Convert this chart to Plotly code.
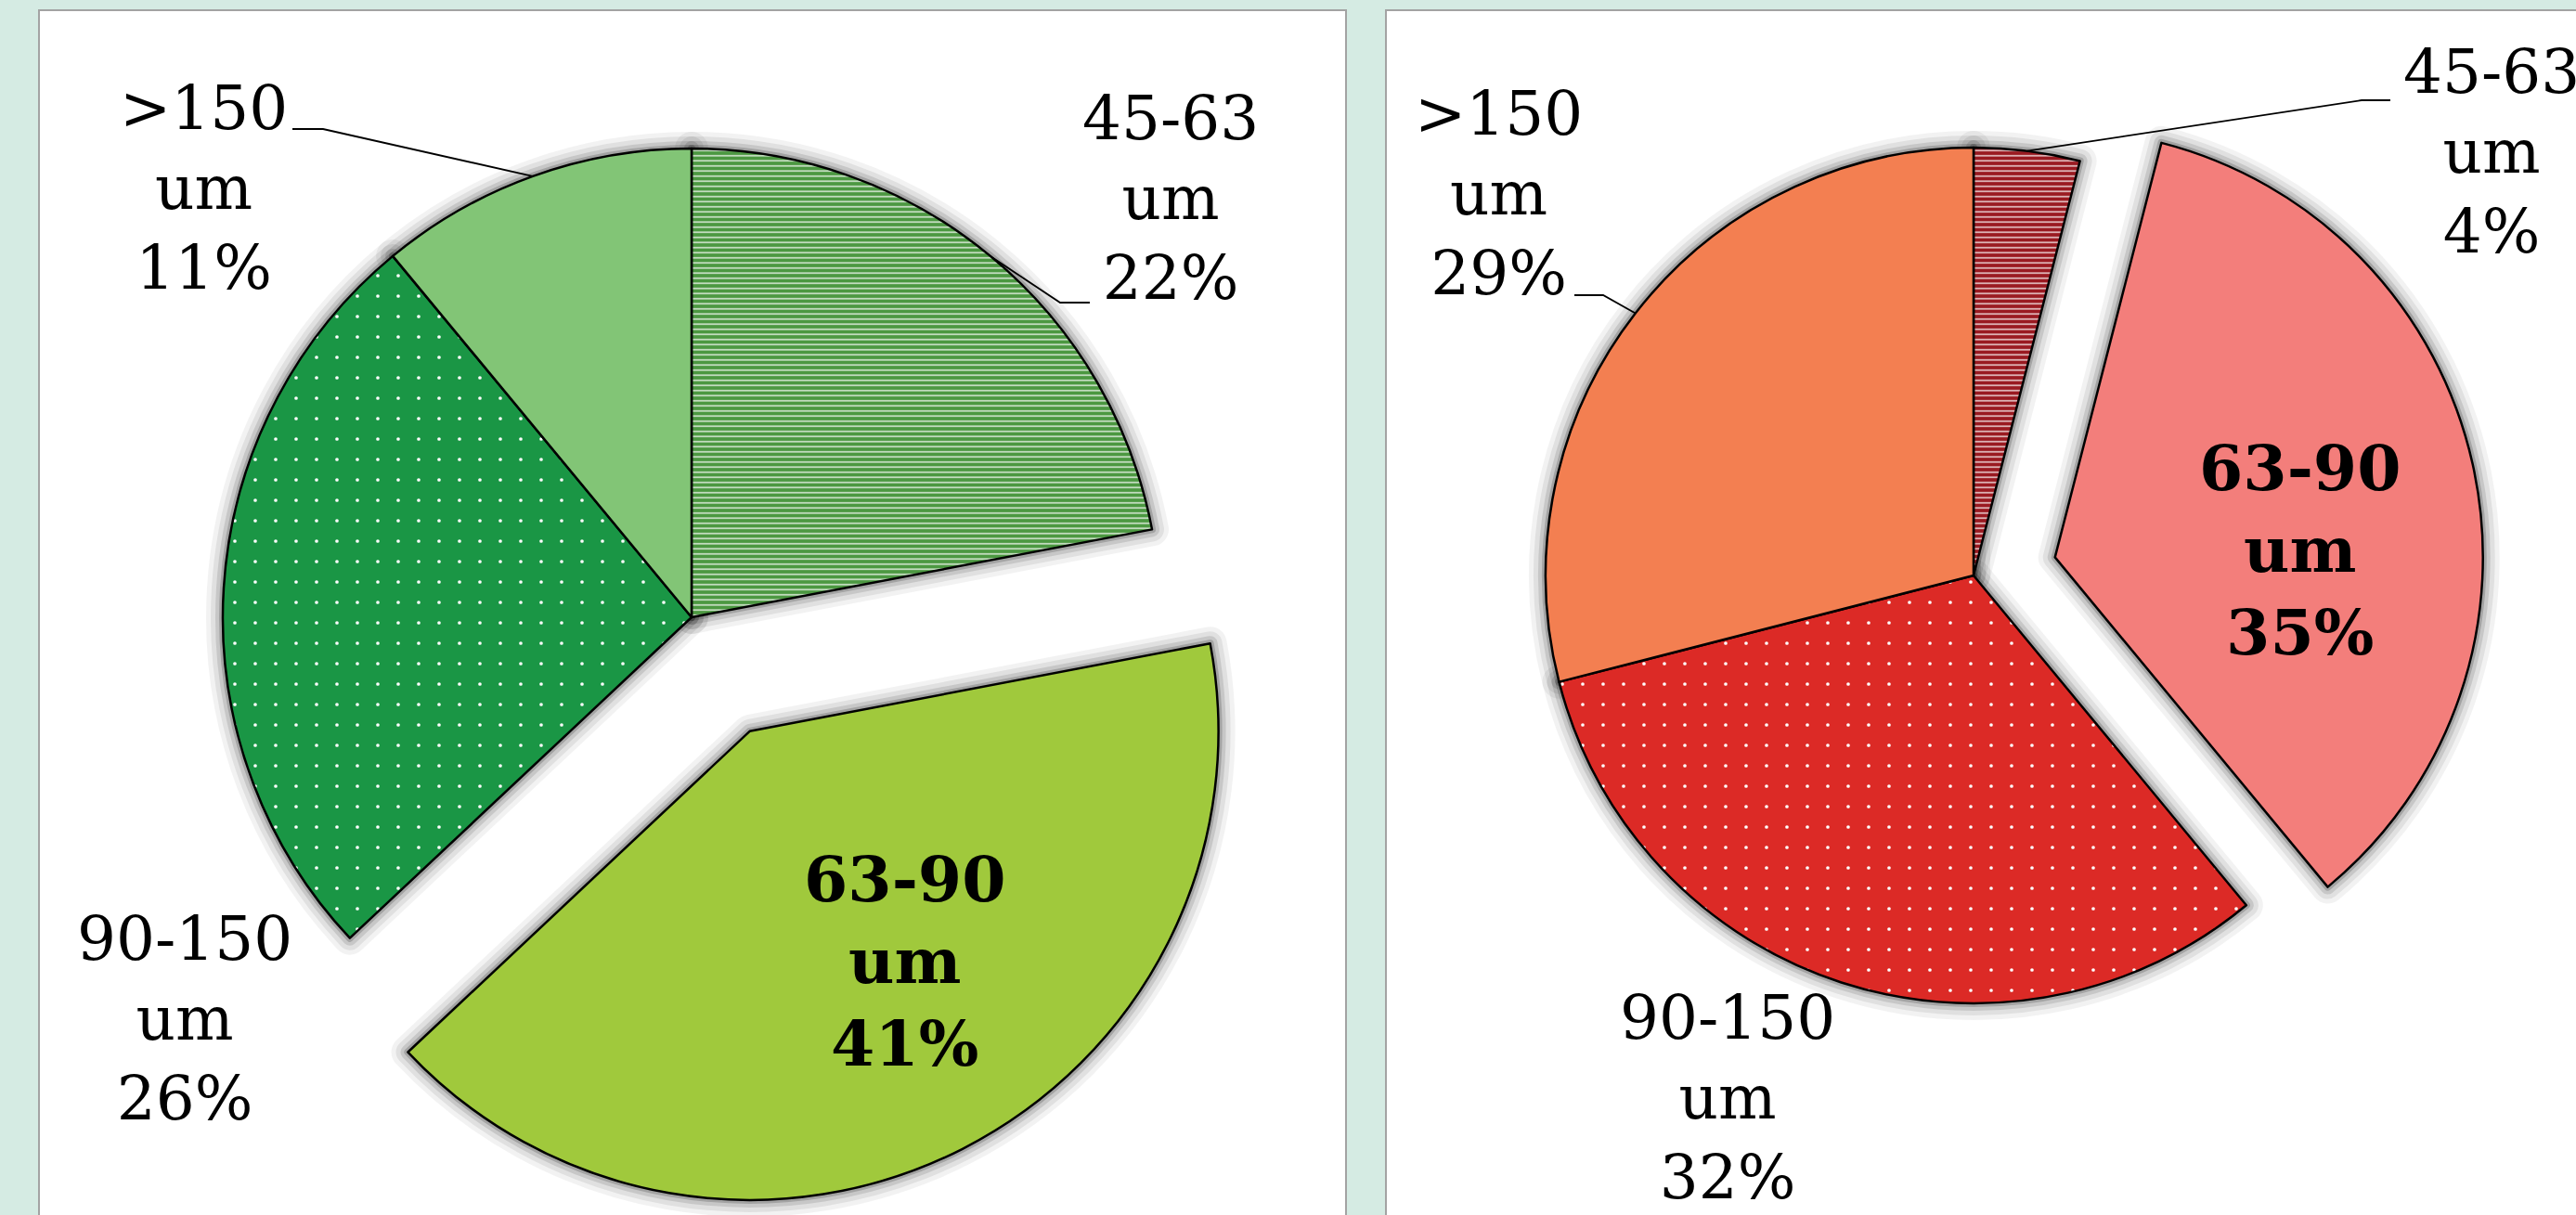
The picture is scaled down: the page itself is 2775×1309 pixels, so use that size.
import math
import plotly.graph_objects as go

W, H = 2775, 1309

# Particle-size classes (clockwise from 12 o'clock) and their shares in percent
size_classes = ["45-63", "63-90", "90-150", ">150"]
unit = "um"
left_share = [22, 41, 26, 11]
right_share = [4, 35, 32, 29]

# Styling per class
left_colors = ["#4c9841", "#a0c93c", "#1a9645", "#82c576"]
right_colors = ["#9a1a21", "#f37e7b", "#dc2a26", "#f37f51"]
pattern_shapes = ["-", "", ".", ""]
pattern_sizes = [5.5, 10, 22, 10]
pattern_solidity = [0.22, 0.2, 0.022, 0.2]
left_pull = [0, 0.273, 0, 0]
right_pull = [0, 0.195, 0, 0]

FONT = "DejaVu Serif"
BG = "#d5ebe3"


def px(x):
    return x / W


def py(y):
    return 1 - y / H


def domain_for(cx, cy, r, pulls):
    half = r * (1 + max(pulls))
    return dict(x=[px(cx - half), px(cx + half)], y=[py(cy + half), py(cy - half)])


def mid_angle(values, i):
    total = sum(values)
    start = sum(values[:i]) / total * 360
    return start + values[i] / total * 180


def arc_point(cx, cy, r, deg):
    a = math.radians(deg)
    return cx + r * math.sin(a), cy - r * math.cos(a)


fig = go.Figure()

pies = [
    dict(cx=745, cy=665, r=505, values=left_share, colors=left_colors, pull=left_pull),
    dict(cx=2126, cy=620, r=461, values=right_share, colors=right_colors, pull=right_pull),
]

# soft glow around the pies: stacked translucent outlines behind the slices
glow = [(36, 0.05), (26, 0.07), (16, 0.11), (8, 0.18)]
for p in pies:
    dom = domain_for(p["cx"], p["cy"], p["r"], p["pull"])
    for w, a in glow:
        fig.add_trace(go.Pie(
            labels=size_classes, values=p["values"], pull=p["pull"], sort=False,
            direction="clockwise", rotation=0, domain=dom, textinfo="none",
            hoverinfo="skip", showlegend=False,
            marker=dict(colors=["rgba(0,0,0,0)"] * 4,
                        line=dict(color=f"rgba(0,0,0,{a})", width=w)),
        ))
    fig.add_trace(go.Pie(
        labels=size_classes, values=p["values"], pull=p["pull"], sort=False,
        direction="clockwise", rotation=0, domain=dom, textinfo="none",
        showlegend=False,
        marker=dict(
            colors=p["colors"],
            line=dict(color="#000000", width=2.5),
            pattern=dict(shape=pattern_shapes, fgcolor=["#ffffff"] * 4,
                         bgcolor=p["colors"],
                         size=pattern_sizes, solidity=pattern_solidity,
                         fillmode="replace"),
        ),
    ))

shapes = [
    dict(type="rect", xref="paper", yref="paper", x0=px(42), x1=px(1450), y0=py(1330), y1=py(11),
         fillcolor="white", line=dict(color="#a3a3a3", width=2), layer="below"),
    dict(type="rect", xref="paper", yref="paper", x0=px(1493), x1=px(2800), y0=py(1330), y1=py(11),
         fillcolor="white", line=dict(color="#a3a3a3", width=2), layer="below"),
]


def leader(p, i, elbow, end):
    ax, ay = arc_point(p["cx"], p["cy"], p["r"], mid_angle(p["values"], i))
    path = (f"M {px(ax)},{py(ay)} L {px(elbow[0])},{py(elbow[1])} "
            f"L {px(end[0])},{py(end[1])}")
    return dict(type="path", xref="paper", yref="paper", path=path,
                line=dict(color="black", width=1.8), layer="above")


shapes.append(leader(pies[0], 3, (348, 139), (315, 139)))
shapes.append(leader(pies[0], 0, (1142, 326), (1174, 326)))
shapes.append(leader(pies[1], 3, (1727, 318), (1696, 318)))
shapes.append(leader(pies[1], 0, (2544, 108), (2575, 108)))

annotations = []


def label(values, i, x, y, bold=False):
    text = f"{size_classes[i]}<br>{unit}<br>{values[i]}%"
    if bold:
        text = f"<b>{text}</b>"
    annotations.append(dict(
        text=text, x=px(x), y=py(y), xref="paper", yref="paper",
        xanchor="center", yanchor="middle", align="center", showarrow=False,
        font=dict(family=FONT, size=68 if bold else 66, color="black"),
    ))


label(left_share, 3, 219, 203)
label(left_share, 0, 1261, 213)
label(left_share, 2, 199, 1097)
label(left_share, 1, 974, 1035, bold=True)
label(right_share, 3, 1614, 209)
label(right_share, 0, 2684, 163)
label(right_share, 1, 2477, 592, bold=True)
label(right_share, 2, 1861, 1182)

fig.update_layout(
    width=W, height=H, autosize=False,
    margin=dict(l=0, r=0, t=0, b=0),
    paper_bgcolor=BG, plot_bgcolor=BG,
    shapes=shapes, annotations=annotations,
    showlegend=False,
)

fig.write_html("out.html", config={"displayModeBar": False})
